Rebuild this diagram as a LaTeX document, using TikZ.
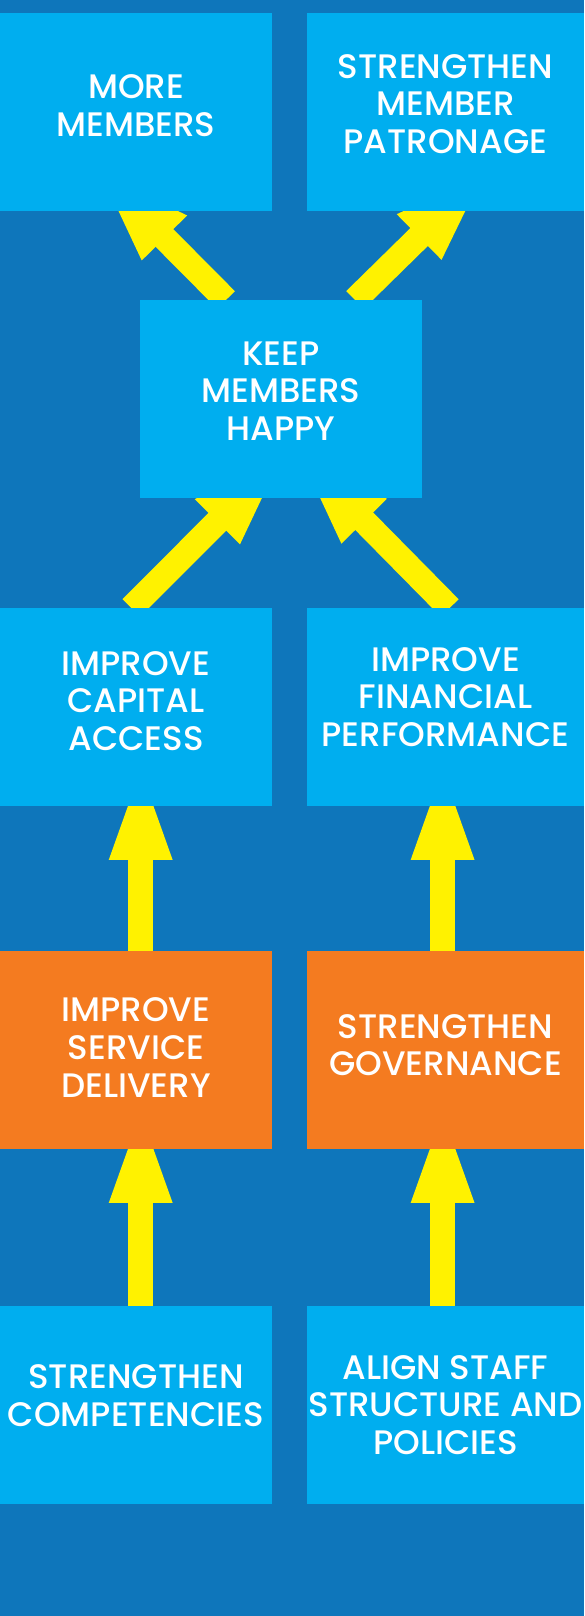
\documentclass[tikz,border=0pt]{standalone}
\usepackage{fontspec}
\setmainfont{Poppins}[UprightFont=* Medium]
\usetikzlibrary{arrows.meta, positioning, calc}
\definecolor{pagebg}{HTML}{0E76BB}
\definecolor{boxblue}{HTML}{00AEEF}
\definecolor{boxorange}{HTML}{F47B20}
\definecolor{arrowyellow}{HTML}{FFF200}
\pgfdeclarelayer{bg}
\pgfdeclarelayer{arrowlayer}
\pgfsetlayers{bg,arrowlayer,main}
\tikzset{
  goalnode/.style={
    rectangle, fill=boxblue, text=white, minimum width=272pt, minimum height=198pt,
    inner sep=0pt, outer sep=0pt, align=center, font=\fontsize{34}{37.7}\selectfont,
    text depth=12pt
  },
  focusnode/.style={goalnode, fill=boxorange},
  push/.style={draw=arrowyellow, line width=25pt, -{Triangle[length=100pt, width=54.5pt]}}
}

\begin{document}
\begin{tikzpicture}[x=1pt, y=1pt]
    \begin{pgfonlayer}{bg}
    \fill[pagebg] (0,0) rectangle (584,1616);
    \end{pgfonlayer}
    \useasboundingbox (0,0) rectangle (584,1616);
    
    % Top
    \node[goalnode, text depth=13pt] (more) at (136,1504) {MORE\\MEMBERS};
    \node[goalnode, minimum width=277pt, text depth=16pt] (patr) at (445.5,1504) {STRENGTHEN\\MEMBER\\PATRONAGE};
    \node[goalnode, minimum width=282pt, text depth=16pt] (keep) at (281,1217) {KEEP\\MEMBERS\\HAPPY};
    \node[goalnode] (cap) at (136,909) {IMPROVE\\CAPITAL\\ACCESS};
    \node[goalnode, minimum width=277pt, text depth=20pt] (fin) at (445.5,909) {IMPROVE\\FINANCIAL\\PERFORMANCE};
    
    % Focus
    \node[focusnode, text depth=5pt] (svc) at (136,566) {IMPROVE\\SERVICE\\DELIVERY};
    \node[focusnode, minimum width=277pt, text depth=10pt] (gov) at (445.5,566) {STRENGTHEN\\GOVERNANCE};
    
    % Bottom
    \node[goalnode, text depth=19pt] (comp) at (136,211) {STRENGTHEN\\COMPETENCIES};
    \node[goalnode, minimum width=277pt, text depth=0pt] (align) at (445.5,211) {ALIGN STAFF\\STRUCTURE AND\\POLICIES};
    
    \begin{pgfonlayer}{arrowlayer}
    \draw[push] ([xshift=4.7pt]comp.north) -- ([xshift=4.7pt, yshift=46pt]svc.south);
    \draw[push] ([xshift=-2.9pt]align.north) -- ([xshift=-2.9pt, yshift=46pt]gov.south);
    \draw[push] ([xshift=4.7pt]svc.north) -- ([xshift=4.7pt, yshift=46pt]cap.south);
    \draw[push] ([xshift=-2.9pt]gov.north) -- ([xshift=-2.9pt, yshift=46pt]fin.south);
    \draw[push] ([xshift=-4.7pt]cap.north) -- ([xshift=7pt, yshift=47pt]keep.south);
    \draw[push] ([xshift=4.2pt]fin.north) -- ([xshift=13pt, yshift=48pt]keep.south);
    \draw[push] ([xshift=-55pt]keep.north) -- ([xshift=-42pt, yshift=44pt]more.south);
    \draw[push] ([xshift=74pt]keep.north) -- ([xshift=45pt, yshift=44pt]patr.south);
    \end{pgfonlayer}
    
\end{tikzpicture}
\end{document}
